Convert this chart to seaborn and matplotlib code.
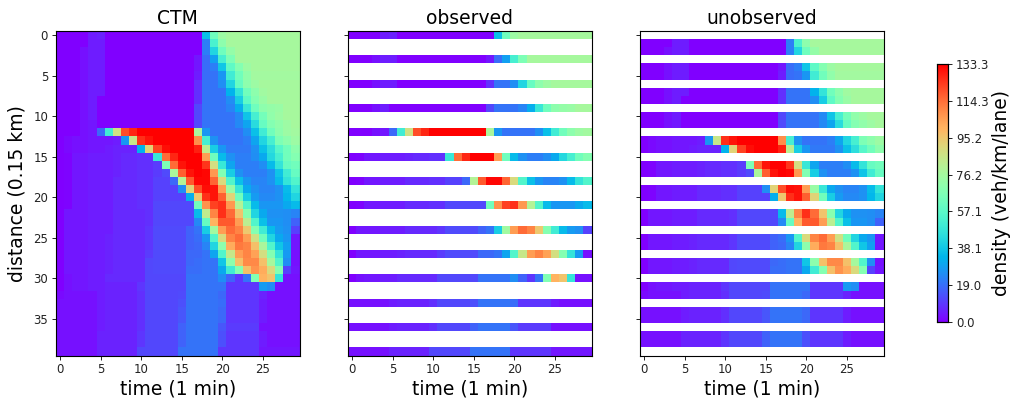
"""
Density heatmaps: CTM output, observed rows and unobserved rows.
"""

import numpy as np
import seaborn as sns
import matplotlib.pyplot as plt

# 1. Values (veh/km/lane), one row per distance step
density = np.array([
    [0, 0, 0, 0, 5, 6, 0, 0, 0, 0, 0, 0, 0, 0, 0, 0, 0, 0, 36, 62, 74, 77, 77, 77, 77, 77, 77, 77, 77, 77],
    [0, 0, 0, 0, 5, 5, 0, 0, 0, 0, 0, 0, 0, 0, 0, 0, 0, 0, 22, 53, 70, 77, 77, 77, 77, 77, 77, 77, 77, 77],
    [0, 0, 0, 3, 5, 5, 0, 0, 0, 0, 0, 0, 0, 0, 0, 0, 0, 0, 22, 42, 62, 72, 77, 77, 77, 77, 77, 77, 77, 77],
    [0, 0, 0, 3, 5, 5, 0, 0, 0, 0, 0, 0, 0, 0, 0, 0, 0, 4, 19, 29, 52, 66, 77, 77, 77, 77, 77, 77, 77, 77],
    [0, 0, 0, 3, 5, 5, 0, 0, 0, 0, 0, 0, 0, 0, 0, 0, 0, 4, 19, 22, 38, 58, 68, 74, 77, 77, 77, 77, 77, 77],
    [0, 0, 0, 3, 5, 5, 0, 0, 0, 0, 0, 0, 0, 0, 0, 0, 0, 5, 19, 20, 27, 50, 63, 71, 76, 76, 76, 76, 76, 76],
    [0, 0, 0, 3, 5, 5, 0, 0, 0, 0, 0, 0, 0, 0, 0, 0, 0, 8, 20, 20, 25, 42, 60, 70, 74, 77, 77, 77, 77, 77],
    [0, 0, 0, 3, 5, 5, 0, 0, 0, 0, 0, 0, 0, 0, 0, 0, 0, 8, 20, 20, 20, 33, 47, 63, 70, 75, 77, 77, 77, 77],
    [0, 0, 0, 3, 5, 0, 0, 0, 0, 0, 0, 0, 0, 0, 0, 0, 0, 8, 20, 20, 20, 25, 40, 58, 68, 73, 77, 77, 77, 77],
    [0, 0, 0, 3, 5, 0, 0, 0, 0, 0, 0, 0, 0, 0, 0, 0, 0, 12, 20, 20, 20, 23, 32, 48, 62, 70, 72, 73, 77, 77],
    [0, 0, 0, 3, 5, 0, 0, 0, 0, 0, 0, 0, 0, 0, 0, 0, 0, 12, 20, 20, 20, 20, 24, 37, 52, 64, 71, 74, 77, 77],
    [0, 0, 0, 3, 4, 0, 0, 0, 0, 0, 0, 0, 0, 0, 0, 0, 0, 13, 20, 20, 20, 20, 24, 30, 44, 60, 68, 71, 74, 77],
    [0, 0, 0, 3, 4, 18, 50, 87, 120, 127, 133, 133, 133, 133, 133, 133, 133, 78, 27, 20, 20, 20, 20, 25, 36, 50, 63, 70, 74, 76],
    [0, 2, 3, 3, 4, 4, 4, 5, 27, 85, 125, 130, 133, 133, 133, 133, 133, 108, 52, 26, 20, 20, 20, 22, 30, 42, 52, 66, 70, 74],
    [0, 2, 3, 3, 4, 4, 5, 6, 6, 6, 33, 92, 122, 131, 133, 133, 133, 128, 82, 40, 27, 21, 21, 21, 26, 36, 45, 56, 63, 70],
    [0, 1, 4, 4, 5, 5, 5, 6, 7, 7, 8, 8, 48, 115, 127, 133, 133, 133, 105, 62, 35, 26, 22, 22, 25, 31, 43, 52, 63, 68],
    [0, 1, 4, 4, 5, 5, 5, 6, 7, 7, 8, 8, 10, 66, 115, 130, 133, 133, 124, 88, 48, 30, 22, 22, 22, 25, 35, 47, 60, 63],
    [0, 1, 4, 4, 5, 5, 5, 6, 7, 7, 8, 8, 10, 13, 78, 117, 130, 133, 132, 106, 67, 40, 26, 22, 22, 22, 26, 37, 50, 60],
    [0, 1, 4, 4, 5, 5, 5, 7, 7, 7, 8, 8, 11, 11, 18, 80, 118, 132, 132, 116, 90, 55, 36, 27, 23, 23, 26, 35, 47, 55],
    [0, 1, 4, 4, 5, 5, 5, 7, 7, 7, 8, 8, 11, 11, 11, 25, 92, 120, 131, 130, 105, 73, 48, 31, 26, 23, 23, 26, 35, 47],
    [0, 1, 4, 4, 5, 5, 5, 7, 7, 7, 8, 8, 11, 11, 11, 11, 32, 95, 125, 130, 117, 92, 63, 40, 28, 24, 24, 26, 34, 42],
    [0, 1, 4, 4, 5, 5, 5, 7, 7, 7, 8, 8, 12, 12, 12, 12, 12, 63, 107, 122, 125, 106, 80, 55, 35, 27, 27, 27, 31, 35],
    [0, 4, 4, 4, 5, 5, 5, 7, 7, 7, 7, 8, 12, 12, 12, 12, 12, 35, 83, 110, 125, 115, 96, 69, 42, 31, 26, 26, 25, 23],
    [0, 4, 4, 4, 5, 5, 5, 7, 7, 7, 7, 8, 12, 12, 12, 12, 12, 24, 60, 100, 118, 118, 105, 82, 55, 36, 27, 27, 25, 17],
    [0, 4, 4, 4, 5, 5, 5, 7, 7, 7, 7, 9, 13, 13, 13, 13, 17, 20, 40, 75, 105, 115, 110, 95, 68, 50, 35, 28, 26, 11],
    [0, 4, 4, 4, 5, 5, 6, 7, 7, 7, 7, 9, 13, 13, 13, 13, 17, 19, 27, 55, 90, 110, 115, 105, 87, 63, 42, 31, 27, 4],
    [0, 4, 4, 4, 5, 5, 6, 7, 7, 7, 7, 9, 13, 13, 13, 13, 17, 18, 23, 42, 70, 102, 112, 110, 97, 78, 55, 38, 29, 4],
    [0, 4, 4, 4, 5, 5, 6, 7, 7, 7, 7, 10, 13, 13, 13, 13, 18, 18, 20, 30, 55, 85, 105, 110, 104, 88, 68, 47, 28, 3],
    [0, 4, 4, 4, 5, 5, 6, 7, 7, 7, 7, 12, 13, 13, 13, 13, 18, 19, 20, 20, 38, 70, 97, 109, 109, 97, 77, 55, 25, 3],
    [0, 4, 4, 4, 5, 5, 6, 7, 7, 7, 7, 12, 13, 13, 13, 13, 19, 19, 20, 20, 31, 50, 68, 97, 107, 102, 90, 68, 11, 4],
    [0, 3, 4, 4, 5, 5, 7, 7, 7, 7, 7, 12, 12, 12, 12, 12, 20, 20, 20, 20, 25, 17, 9, 20, 67, 100, 96, 47, 3, 3],
    [0, 3, 4, 4, 5, 5, 6, 6, 6, 6, 9, 12, 12, 12, 12, 12, 20, 20, 20, 20, 20, 9, 9, 9, 9, 28, 25, 3, 3, 3],
    [2, 3, 3, 3, 3, 5, 6, 6, 6, 6, 8, 12, 12, 12, 12, 13, 20, 20, 20, 20, 18, 9, 9, 9, 9, 6, 3, 3, 3, 3],
    [3, 3, 3, 3, 3, 5, 6, 6, 6, 6, 8, 12, 12, 12, 12, 14, 20, 20, 20, 20, 19, 9, 9, 9, 9, 5, 3, 3, 3, 3],
    [3, 3, 3, 3, 3, 5, 6, 6, 6, 6, 8, 12, 12, 12, 12, 15, 20, 20, 20, 20, 18, 9, 9, 9, 9, 5, 3, 3, 3, 3],
    [3, 3, 3, 3, 3, 5, 6, 6, 6, 6, 8, 12, 12, 12, 12, 15, 20, 20, 20, 20, 18, 9, 9, 9, 9, 5, 3, 3, 3, 3],
    [3, 3, 3, 3, 3, 5, 6, 6, 6, 6, 8, 12, 12, 12, 12, 17, 20, 20, 20, 20, 15, 10, 10, 10, 10, 3, 3, 3, 3, 3],
    [3, 3, 3, 3, 3, 6, 6, 6, 6, 6, 9, 12, 12, 12, 12, 17, 20, 20, 20, 20, 14, 9, 9, 9, 9, 5, 3, 3, 3, 3],
    [3, 3, 3, 3, 3, 6, 6, 6, 6, 6, 9, 12, 12, 12, 12, 17, 20, 20, 20, 20, 14, 9, 9, 9, 9, 5, 3, 3, 3, 3],
    [3, 3, 3, 3, 3, 6, 6, 6, 6, 6, 12, 12, 12, 12, 12, 20, 20, 20, 20, 20, 9, 9, 9, 9, 9, 4, 4, 4, 4, 4],
], dtype=float)

observed_rows = [0, 3, 6, 9, 12, 15, 18, 21, 24, 27, 30, 33, 36, 39]
titles = ['CTM', 'observed', 'unobserved']
x_ticks = [0, 5, 10, 15, 20, 25]
y_ticks = [0, 5, 10, 15, 20, 25, 30, 35]
cbar_ticks = [0.0, 19.04, 38.09, 57.13, 76.17, 95.21, 114.26, 133.3]
cbar_labels = ['0.0', '19.0', '38.1', '57.1', '76.2', '95.2', '114.3', '133.3']

# 2. Masks for the three panels (True = not drawn)
mask_observed = np.ones(density.shape, dtype=bool)
mask_observed[observed_rows] = False
masks = [np.zeros(density.shape, dtype=bool), mask_observed, ~mask_observed]

# 3. Layout in pixels of the 1024x408 figure
W, H = 1024, 408
fig = plt.figure(figsize=(W / 100, H / 100), dpi=100)
lefts = [56, 348, 640]
axes = [fig.add_axes([l / W, 1 - 355.7 / H, 243.5 / W, 325 / H]) for l in lefts]
cax = fig.add_axes([937 / W, 1 - 322 / H, 11 / W, 258 / H])

# 4. Draw the heatmaps, the colorbar belongs to the first one
for i, ax in enumerate(axes):
    sns.heatmap(density, mask=masks[i], cmap='rainbow', vmin=0, vmax=133.3, ax=ax,
                square=True, cbar=i == 0, cbar_ax=cax if i == 0 else None,
                xticklabels=False, yticklabels=False)
    ax.set_xticks(np.array(x_ticks) + 0.5)
    ax.set_xticklabels(x_ticks, rotation=0, fontsize=8.5)
    ax.set_title(titles[i], fontsize=13.5, pad=5)
    ax.set_xlabel('time (1 min)', fontsize=13.5, labelpad=2)
    ax.tick_params(left=True, bottom=True, length=2.7, width=0.7, pad=3, colors='#222222')
    for spine in ax.spines.values():
        spine.set_visible(True)
        spine.set_linewidth(0.8)
    ax.set_yticks(np.array(y_ticks) + 0.5)
    if i == 0:
        ax.set_yticklabels(y_ticks, rotation=0, fontsize=8.5)
        ax.set_ylabel('distance (0.15 km)', fontsize=13.5, labelpad=5)
    else:
        ax.set_yticklabels(y_ticks, rotation=0, fontsize=8.5, visible=False)

# 5. Colorbar ticks and label
cax.set_yticks(cbar_ticks)
cax.set_yticklabels(cbar_labels, fontsize=8.5)
cax.tick_params(length=2.7, width=0.7, pad=3, colors='#222222')
cax.set_ylabel('density (veh/km/lane)', fontsize=13.5, labelpad=2)
for spine in cax.spines.values():
    spine.set_visible(True)
    spine.set_linewidth(0.8)

fig.savefig('out.png', dpi=100)
